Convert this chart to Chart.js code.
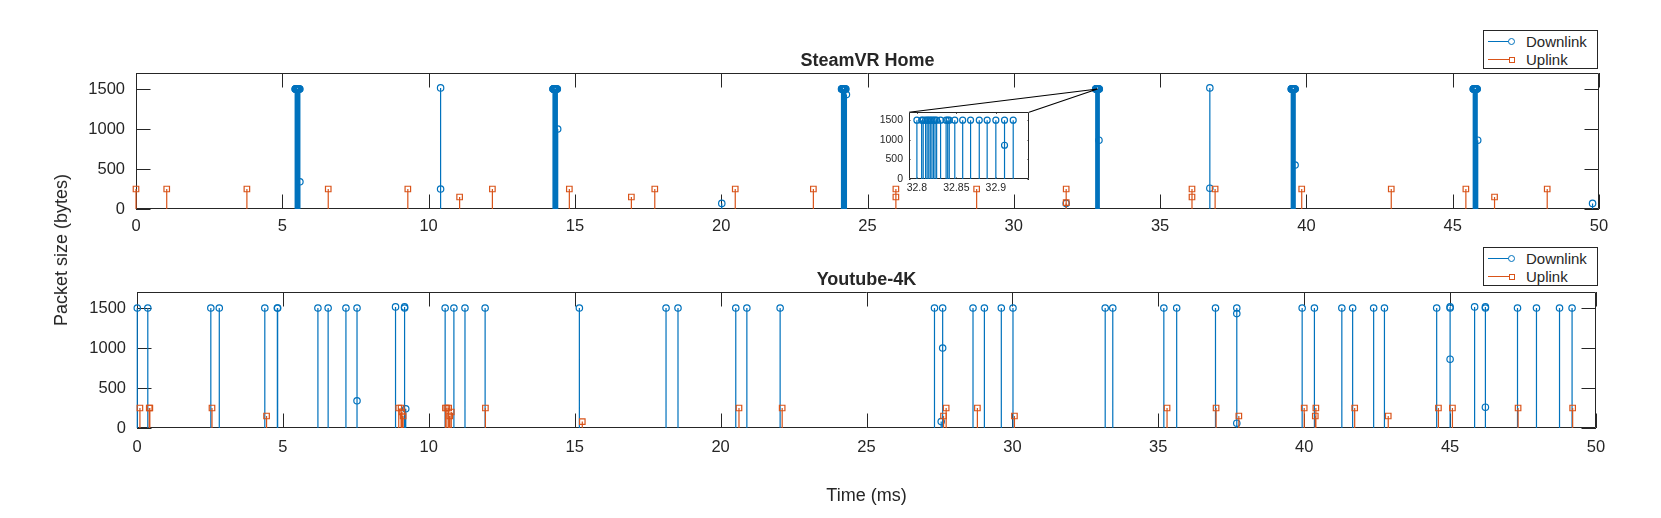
<!DOCTYPE html>
<html>
<head>
<meta charset="utf-8">
<title>Packet size traces</title>
<script src="https://cdn.jsdelivr.net/npm/chart.js@4.4.1/dist/chart.umd.min.js"></script>
<style>
  body { margin: 0; background: #fff; }
  #fig { position: relative; width: 1661px; height: 518px; overflow: hidden;
         font-family: "Liberation Sans", Arial, sans-serif; color: #262626; }
  #fig canvas { position: absolute; }
  .ttl { position: absolute; font-size: 18px; font-weight: bold; line-height: 20px;
         transform: translateX(-50%); white-space: nowrap; }
  .ylab { position: absolute; font-size: 18px; line-height: 20px; white-space: nowrap;
          transform: translate(-50%, -50%) rotate(-90deg); }
  .legend { position: absolute; width: 113px; height: 37px; border: 1px solid #262626;
            background: #fff; font-size: 15px; }
  .legend .row { position: absolute; left: 0; width: 100%; height: 18px; }
  .legend .ln { position: absolute; left: 4px; width: 24px; top: 8px; height: 0; border-top: 1.2px solid; }
  .legend .mk { position: absolute; box-sizing: border-box; border: 1.2px solid; background: #fff; }
  .legend .circ { left: 24px; top: 5px; width: 7px; height: 7px; border-radius: 50%; }
  .legend .sq { left: 24.5px; top: 5.5px; width: 6px; height: 6px; }
  .legend .txt { position: absolute; left: 42px; top: 0; line-height: 18px; }
  .down { color: #0072BD; }
  .up { color: #D95319; }
</style>
</head>
<body>
<div id="fig">
  <canvas id="top" width="1661" height="240" style="left:0;top:0"></canvas>
  <canvas id="bottom" width="1661" height="278" style="left:0;top:240px"></canvas>
  <canvas id="inset" width="172" height="100" style="left:868px;top:100px"></canvas>

  <div class="ttl" style="left:867.5px;top:50px">SteamVR Home</div>
  <div class="ttl" style="left:866.5px;top:269px">Youtube-4K</div>
  <div class="ylab" style="left:61px;top:250px">Packet size (bytes)</div>

  <div class="legend" style="left:1483px;top:30px">
    <div class="row down" style="top:2px"><span class="ln"></span><span class="mk circ"></span></div>
    <div class="row" style="top:2px"><span class="txt">Downlink</span></div>
    <div class="row up" style="top:20px"><span class="ln"></span><span class="mk sq"></span></div>
    <div class="row" style="top:20px"><span class="txt">Uplink</span></div>
  </div>
  <div class="legend" style="left:1483px;top:247px">
    <div class="row down" style="top:2px"><span class="ln"></span><span class="mk circ"></span></div>
    <div class="row" style="top:2px"><span class="txt">Downlink</span></div>
    <div class="row up" style="top:20px"><span class="ln"></span><span class="mk sq"></span></div>
    <div class="row" style="top:20px"><span class="txt">Uplink</span></div>
  </div>
</div>

<script>
const BLUE = '#0072BD';
const ORANGE = '#D95319';
const INK = '#262626';

// tick labels
const xTicks = [0, 5, 10, 15, 20, 25, 30, 35, 40, 45, 50];
const yTicks = [0, 500, 1000, 1500];
const insetXTicks = [32.8, 32.85, 32.9];
const insetYTicks = [0, 500, 1000, 1500];

// SteamVR Home - downlink (time in ms, size in bytes)
const steamDownT = [
  5.440, 5.446, 5.452, 5.458, 5.464, 5.470, 5.476, 5.482, 5.489, 5.501, 5.516, 5.528, 5.540, 5.552, 5.564, 5.576, 5.588, 5.600, 5.602,
  10.41, 10.41,
  14.252, 14.258, 14.264, 14.270, 14.276, 14.282, 14.288, 14.294, 14.301, 14.313, 14.328, 14.340, 14.352, 14.364, 14.376, 14.388, 14.400, 14.412,
  20.02,
  24.112, 24.118, 24.124, 24.130, 24.136, 24.142, 24.148, 24.154, 24.161, 24.173, 24.188, 24.200, 24.212, 24.224, 24.236, 24.248, 24.260, 24.280,
  31.79,
  32.800, 32.806, 32.808, 32.811, 32.813, 32.815, 32.817, 32.819, 32.821, 32.823, 32.825, 32.830, 32.837, 32.839, 32.841, 32.848, 32.858,
  32.868, 32.879, 32.889, 32.900, 32.911, 32.911, 32.922,
  36.70, 36.70,
  39.482, 39.488, 39.494, 39.500, 39.506, 39.512, 39.518, 39.524, 39.531, 39.543, 39.558, 39.570, 39.582, 39.594, 39.606, 39.618, 39.614,
  45.702, 45.708, 45.714, 45.720, 45.726, 45.732, 45.738, 45.744, 45.751, 45.763, 45.778, 45.790, 45.802, 45.814, 45.826, 45.838, 45.855,
  49.78
];
const steamDownV = [
  1500, 1500, 1500, 1500, 1500, 1500, 1500, 1500, 1500, 1500, 1500, 1500, 1500, 1500, 1500, 1500, 1500, 1500, 340,
  1514, 250,
  1500, 1500, 1500, 1500, 1500, 1500, 1500, 1500, 1500, 1500, 1500, 1500, 1500, 1500, 1500, 1500, 1500, 1000,
  70,
  1500, 1500, 1500, 1500, 1500, 1500, 1500, 1500, 1500, 1500, 1500, 1500, 1500, 1500, 1500, 1500, 1500, 1430,
  70,
  1500, 1500, 1500, 1500, 1500, 1500, 1500, 1500, 1500, 1500, 1500, 1500, 1500, 1500, 1500, 1500, 1500,
  1500, 1500, 1500, 1500, 1500, 860, 1500,
  1514, 260,
  1500, 1500, 1500, 1500, 1500, 1500, 1500, 1500, 1500, 1500, 1500, 1500, 1500, 1500, 1500, 1500, 550,
  1500, 1500, 1500, 1500, 1500, 1500, 1500, 1500, 1500, 1500, 1500, 1500, 1500, 1500, 1500, 1500, 860,
  70
];

// SteamVR Home - uplink
const steamUpT = [0.0, 1.05, 3.79, 6.57, 9.29, 11.06, 12.18, 14.81, 16.93, 17.73, 20.48, 23.15, 25.97, 25.97,
  28.73, 31.79, 31.79, 36.09, 36.09, 36.88, 39.84, 42.90, 45.45, 46.43, 48.23];
const steamUpV = [250, 250, 250, 250, 250, 150, 250, 250, 150, 250, 250, 250, 250, 150,
  250, 250, 80, 250, 150, 250, 250, 250, 250, 150, 250];

// Youtube-4K - downlink
const ytDownT = [0.01, 0.37, 2.53, 2.82, 4.38, 4.81, 4.82, 6.20, 6.55, 7.16, 7.54, 7.54, 8.86, 9.17, 9.17, 9.21,
  10.56, 10.86, 11.24, 11.93, 15.16, 18.13, 18.54, 20.52, 20.90, 22.04, 27.33, 27.61, 27.61, 27.56,
  28.65, 29.04, 29.62, 30.02, 33.18, 33.44, 35.19, 35.63, 36.96, 37.69, 37.69, 37.69,
  39.93, 40.35, 41.29, 41.66, 42.38, 42.75, 44.54, 45.00, 45.00, 45.00, 45.84, 46.21, 46.21, 46.21,
  47.31, 47.96, 48.75, 49.18];
const ytDownV = [1500, 1500, 1500, 1500, 1500, 1500, 1500, 1500, 1500, 1500, 1500, 340, 1514, 1500, 1514, 240,
  1500, 1500, 1500, 1500, 1500, 1500, 1500, 1500, 1500, 1500, 1500, 1500, 1000, 80,
  1500, 1500, 1500, 1500, 1500, 1500, 1500, 1500, 1500, 1500, 1430, 60,
  1500, 1500, 1500, 1500, 1500, 1500, 1500, 1500, 1514, 860, 1514, 1500, 1514, 260,
  1500, 1500, 1500, 1500];

// Youtube-4K - uplink
const ytUpT = [0.10, 0.42, 0.44, 2.57, 4.44, 8.97, 9.05, 9.08, 9.12, 10.57, 10.62, 10.68, 10.72, 10.77, 11.94, 15.26,
  20.63, 22.11, 27.64, 27.73, 28.80, 30.07, 35.30, 36.98, 37.76, 40.00, 40.40, 40.38, 41.73, 42.88,
  44.60, 45.08, 47.33, 49.20];
const ytUpV = [250, 250, 250, 250, 150, 250, 250, 200, 150, 250, 250, 250, 150, 200, 250, 80,
  250, 250, 150, 250, 250, 150, 250, 250, 150, 250, 250, 150, 250, 150,
  250, 250, 250, 250];

// point of the main plot that the inset magnifies
const zoomPoint = { x: 32.86, y: 1500 };

// stem = baseline point, value point, gap
function stemPoints(ts, vs) {
  const pts = [];
  ts.forEach((t, i) => {
    pts.push({ x: t, y: 0 }, { x: t, y: vs[i] }, { x: t, y: null });
  });
  return pts;
}

function stemSet(label, ts, vs, color, style, r, order, clip) {
  return {
    label: label,
    data: stemPoints(ts, vs),
    showLine: true,
    spanGaps: false,
    borderColor: color,
    borderWidth: 1.2,
    pointStyle: style,
    pointRadius: c => (c.dataIndex % 3 === 1 ? r : 0),
    pointHoverRadius: 0,
    pointBorderColor: color,
    pointBackgroundColor: 'rgba(0,0,0,0)',
    pointBorderWidth: 1.2,
    order: order,
    clip: clip
  };
}

// MATLAB style box with inward ticks on all four sides
const boxPlugin = {
  id: 'matlabBox',
  beforeDraw(chart, args, opts) {
    if (!opts.fill) return;
    const a = chart.chartArea;
    chart.ctx.save();
    chart.ctx.fillStyle = opts.fill;
    chart.ctx.fillRect(a.left, a.top, a.width, a.height);
    chart.ctx.restore();
  },
  beforeDatasetsDraw(chart, args, opts) {
    const { ctx, chartArea: a, scales: { x, y } } = chart;
    const len = opts.tickLen;
    ctx.save();
    ctx.strokeStyle = INK;
    ctx.lineWidth = 1;
    ctx.beginPath();
    x.ticks.forEach(t => {
      const px = Math.round(x.getPixelForValue(t.value)) + 0.5;
      ctx.moveTo(px, a.bottom); ctx.lineTo(px, a.bottom - len);
      ctx.moveTo(px, a.top); ctx.lineTo(px, a.top + len);
    });
    y.ticks.forEach(t => {
      const py = Math.round(y.getPixelForValue(t.value)) + 0.5;
      ctx.moveTo(a.left, py); ctx.lineTo(a.left + len, py);
      ctx.moveTo(a.right, py); ctx.lineTo(a.right - len, py);
    });
    ctx.rect(Math.round(a.left) + 0.5, Math.round(a.top) + 0.5,
      Math.round(a.width) - 1, Math.round(a.height) - 1);
    ctx.stroke();
    ctx.restore();
  }
};

// lines from the magnified point to the inset's upper corners
const zoomLines = {
  id: 'zoomLines',
  afterDraw(chart, args, opts) {
    const inset = opts.inset;
    if (!inset) return;
    const { ctx, scales: { x, y } } = chart;
    const px = x.getPixelForValue(zoomPoint.x);
    const py = y.getPixelForValue(zoomPoint.y);
    const ox = inset.canvas.offsetLeft, oy = inset.canvas.offsetTop;
    const ia = inset.chartArea;
    ctx.save();
    ctx.strokeStyle = '#000';
    ctx.lineWidth = 1.1;
    ctx.beginPath();
    ctx.moveTo(ox + ia.left, oy + ia.top); ctx.lineTo(px, py);
    ctx.moveTo(ox + ia.right, oy + ia.top); ctx.lineTo(px, py);
    ctx.stroke();
    ctx.restore();
  }
};

function axis(min, max, ticks, size, pad, fitSize, horizontal, title) {
  const a = {
    type: 'linear',
    min: min,
    max: max,
    grid: { display: false, drawTicks: false },
    border: { display: false },
    ticks: {
      color: INK,
      font: { size: size },
      padding: pad,
      maxRotation: 0,
      autoSkip: false,
      callback: v => String(v)
    },
    afterBuildTicks: s => { s.ticks = ticks.map(v => ({ value: v })); },
    afterFit: s => { if (horizontal) s.height = fitSize; else s.width = fitSize; }
  };
  if (title) {
    a.title = { display: true, text: title, color: INK, font: { size: 18 }, padding: { top: 0, bottom: 11 } };
  }
  return a;
}

function makeChart(id, datasets, cfg) {
  return new Chart(document.getElementById(id), {
    type: 'scatter',
    data: { datasets: datasets },
    options: {
      responsive: false,
      animation: false,
      events: [],
      layout: { padding: cfg.pad },
      plugins: {
        legend: { display: false },
        tooltip: { enabled: false },
        matlabBox: { tickLen: cfg.tickLen, fill: cfg.fill },
        zoomLines: { inset: cfg.inset }
      },
      scales: {
        x: cfg.x,
        y: cfg.y
      }
    },
    plugins: [boxPlugin, zoomLines]
  });
}

Chart.defaults.font.family = "'Liberation Sans', Arial, sans-serif";
Chart.defaults.color = INK;

const insetChart = makeChart('inset', [
  stemSet('Downlink', steamDownT, steamDownV, BLUE, 'circle', 3, 2, true)
], {
  pad: { top: 6, right: 11, bottom: 0, left: 0 },
  tickLen: 1.5,
  fill: '#fff',
  x: axis(32.79, 32.942, insetXTicks, 10.5, 3, 21, true),
  y: axis(0, 1700, insetYTicks, 10.5, 6, 41, false)
});

makeChart('top', [
  stemSet('Downlink', steamDownT, steamDownV, BLUE, 'circle', 3.2, 2, false),
  stemSet('Uplink', steamUpT, steamUpV, ORANGE, 'rect', 3.9, 1, false)
], {
  pad: { top: 73, right: 62, bottom: 0, left: 0 },
  tickLen: 14.5,
  inset: insetChart,
  x: axis(0, 50, xTicks, 16.5, 8, 31, true),
  y: axis(0, 1700, yTicks, 16.5, 11, 136, false)
});

makeChart('bottom', [
  stemSet('Downlink', ytDownT, ytDownV, BLUE, 'circle', 3.2, 2, false),
  stemSet('Uplink', ytUpT, ytUpV, ORANGE, 'rect', 3.9, 1, false)
], {
  pad: { top: 52, right: 65, bottom: 0, left: 0 },
  tickLen: 14.5,
  x: axis(0, 50, xTicks, 16.5, 10, 90, true, 'Time (ms)'),
  y: axis(0, 1700, yTicks, 16.5, 11, 137, false)
});
</script>
</body>
</html>
